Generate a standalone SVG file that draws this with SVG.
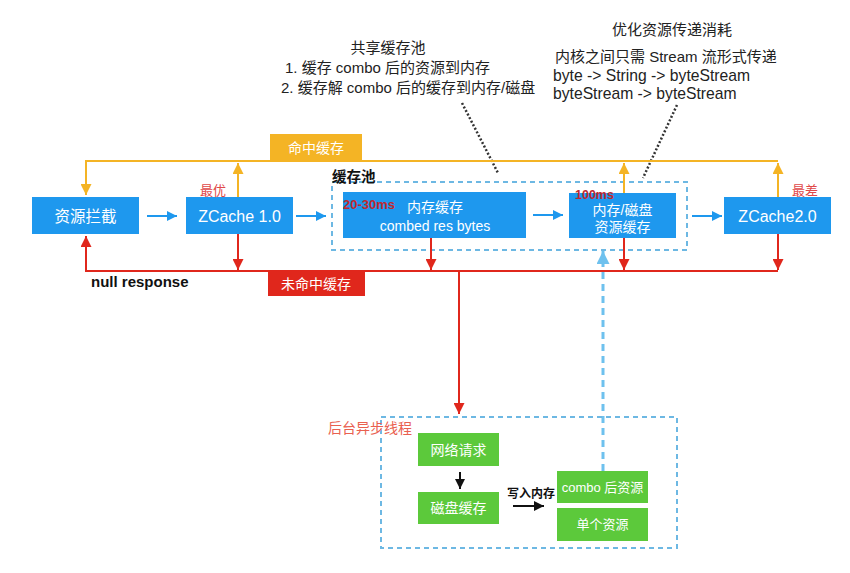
<svg xmlns="http://www.w3.org/2000/svg" width="850" height="573" viewBox="0 0 850 573">
<style>
text{font-family:"Liberation Sans","Noto Sans CJK SC",sans-serif;}
.blue{fill:#1E98EE;}
.green{fill:#5CC93B;}
.wt{fill:#fff;font-size:14px;text-anchor:middle;dominant-baseline:central;}
.ann{fill:#222;font-size:15px;}
.dbox{fill:none;stroke:#6DB8E3;stroke-width:2;stroke-dasharray:5 4;}
.org{fill:none;stroke:#F4B425;stroke-width:2;}
.red{fill:none;stroke:#E0271C;stroke-width:2;}
.barr{fill:none;stroke:#1E98EE;stroke-width:2;}
.blk{fill:none;stroke:#111;stroke-width:2;}
.dot{fill:none;stroke:#333;stroke-width:2.5;stroke-dasharray:2 2;}
</style>
<defs>
<marker id="mo" viewBox="0 0 10 10" refX="10" refY="5" markerWidth="11" markerHeight="11" markerUnits="userSpaceOnUse" orient="auto"><path d="M0,0 L10,5 L0,10 z" fill="#F4B425"/></marker>
<marker id="mr" viewBox="0 0 10 10" refX="10" refY="5" markerWidth="11" markerHeight="11" markerUnits="userSpaceOnUse" orient="auto"><path d="M0,0 L10,5 L0,10 z" fill="#E0271C"/></marker>
<marker id="mb" viewBox="0 0 10 10" refX="10" refY="5" markerWidth="10" markerHeight="10" markerUnits="userSpaceOnUse" orient="auto"><path d="M0,0 L10,5 L0,10 z" fill="#1E98EE"/></marker>
<marker id="mk" viewBox="0 0 10 10" refX="10" refY="5" markerWidth="10" markerHeight="10" markerUnits="userSpaceOnUse" orient="auto"><path d="M0,0 L10,5 L0,10 z" fill="#111"/></marker>
<marker id="ml" viewBox="0 0 10 10" refX="10" refY="5" markerWidth="13" markerHeight="13" markerUnits="userSpaceOnUse" orient="auto"><path d="M0,0 L10,5 L0,10 z" fill="#6EC1EE"/></marker>
</defs>
<rect width="850" height="573" fill="#fff"/>

<g id="annotations">
<text class="ann" x="388" y="53" text-anchor="middle">共享缓存池</text>
<text class="ann" x="285" y="73">1. 缓存 combo 后的资源到内存</text>
<text class="ann" x="281" y="93">2. 缓存解 combo 后的缓存到内存/磁盘</text>
<text class="ann" x="672" y="35" text-anchor="middle">优化资源传递消耗</text>
<text class="ann" x="555" y="62">内核之间只需 Stream 流形式传递</text>
<text class="ann" x="553" y="81" style="font-size:15.7px">byte -&gt; String -&gt; byteStream</text>
<text class="ann" x="553" y="99" style="font-size:15.7px">byteStream -&gt; byteStream</text>
</g>

<g id="pool">
<rect class="dbox" x="332" y="182" width="355" height="68"/>
<text x="332" y="182" style="font-size:14.5px;font-weight:bold;fill:#111">缓存池</text>
</g>

<g id="connectors">
<path class="dot" d="M462 103 L498 173"/>
<path class="dot" d="M677 105 L643 178"/>
<path class="org" d="M778 161 H86 V195" marker-end="url(#mo)"/>
<path class="org" d="M238 197 V163" marker-end="url(#mo)"/>
<path class="org" d="M624 193 V163" marker-end="url(#mo)"/>
<path class="org" d="M778 197 V163" marker-end="url(#mo)"/>
<path class="red" d="M778 271 H86 V236" marker-end="url(#mr)"/>
<path class="red" d="M238 234 V270" marker-end="url(#mr)"/>
<path class="red" d="M431 238 V270" marker-end="url(#mr)"/>
<path class="red" d="M624 238 V270" marker-end="url(#mr)"/>
<path class="red" d="M778 234 V270" marker-end="url(#mr)"/>
<path class="red" d="M459 271 V414" marker-end="url(#mr)"/>
<path class="barr" d="M147 216 H177" marker-end="url(#mb)"/>
<path class="barr" d="M296 216 H326" marker-end="url(#mb)"/>
<path class="barr" d="M533 215 H563" marker-end="url(#mb)"/>
<path class="barr" d="M692 216 H722" marker-end="url(#mb)"/>
<path d="M603 471 V251" fill="none" stroke="#6EC1EE" stroke-width="3" stroke-dasharray="7 5" marker-end="url(#ml)"/>
<path class="blk" d="M460 472 V489" marker-end="url(#mk)"/>
<path class="blk" d="M513 506 H544" marker-end="url(#mk)"/>
</g>

<g id="hit-label">
<rect x="270" y="134" width="92" height="27" fill="#F4B425"/>
<text class="wt" x="316" y="148">命中缓存</text>
</g>
<g id="miss-label">
<rect x="268" y="271" width="97" height="25" fill="#E0271C"/>
<text class="wt" x="316" y="284">未命中缓存</text>
</g>
<text x="91" y="287" style="font-size:15px;font-weight:bold;fill:#111">null response</text>

<g id="n-intercept">
<rect class="blue" x="32" y="197" width="107" height="37"/>
<text class="wt" x="85.5" y="216" style="font-size:15.5px">资源拦截</text>
</g>
<g id="n-zcache1">
<rect class="blue" x="186" y="197" width="107" height="37"/>
<text class="wt" x="239.5" y="216" style="font-size:16px">ZCache 1.0</text>
<text x="200" y="195" style="font-size:13px;fill:#E04848">最优</text>
</g>
<g id="n-mem">
<rect class="blue" x="343" y="192" width="183" height="46"/>
<text class="wt" x="435" y="207">内存缓存</text>
<text class="wt" x="435" y="226">combed res bytes</text>
<text x="343" y="209" style="font-size:13px;font-weight:bold;fill:#C0282E">20-30ms</text>
</g>
<g id="n-disk">
<rect class="blue" x="569" y="193" width="107" height="45"/>
<text class="wt" x="622.5" y="210">内存/磁盘</text>
<text class="wt" x="622.5" y="227">资源缓存</text>
<text x="575" y="199" style="font-size:12.5px;font-weight:bold;fill:#C0282E">100ms</text>
</g>
<g id="n-zcache2">
<rect class="blue" x="724" y="197" width="107" height="37"/>
<text class="wt" x="777.5" y="216" style="font-size:16px">ZCache2.0</text>
<text x="792" y="195" style="font-size:13px;fill:#E04848">最差</text>
</g>

<g id="async">
<rect class="dbox" x="381" y="417" width="296" height="131"/>
<text x="328" y="433" style="font-size:14px;fill:#E9604F">后台异步线程</text>
</g>
<g id="n-net">
<rect class="green" x="418" y="433" width="81" height="33"/>
<text class="wt" x="458.5" y="449.5">网络请求</text>
</g>
<g id="n-diskcache">
<rect class="green" x="418" y="492" width="81" height="32"/>
<text class="wt" x="458.5" y="508">磁盘缓存</text>
</g>
<text x="507" y="498" style="font-size:12px;font-weight:bold;fill:#111">写入内存</text>
<g id="n-combo">
<rect class="green" x="557" y="471" width="91" height="32"/>
<text class="wt" x="602.5" y="487" style="font-size:13px">combo 后资源</text>
</g>
<g id="n-single">
<rect class="green" x="557" y="508" width="91" height="33"/>
<text class="wt" x="602.5" y="524.5" style="font-size:13px">单个资源</text>
</g>
</svg>
